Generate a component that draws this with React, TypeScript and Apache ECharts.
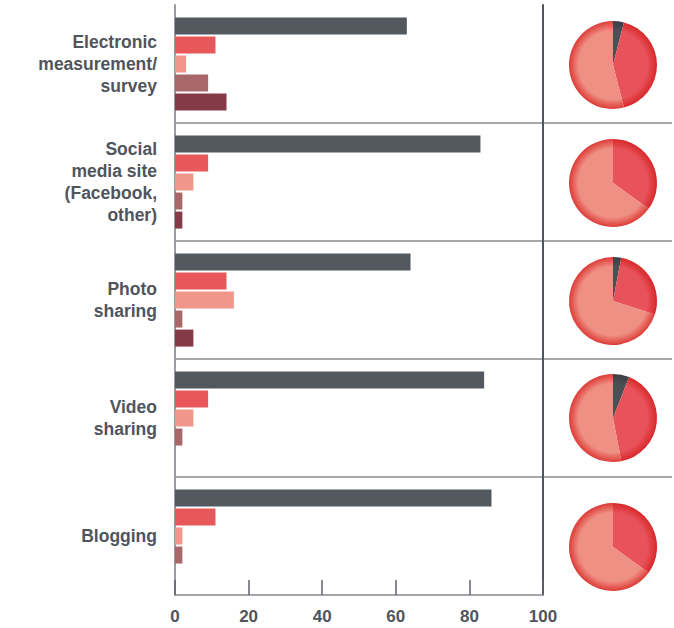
import React, { useEffect, useRef } from "react";
import * as echarts from "echarts";

const categories = [
  "Electronic\nmeasurement/\nsurvey",
  "Social\nmedia site\n(Facebook,\nother)",
  "Photo\nsharing",
  "Video\nsharing",
  "Blogging",
];
const darkValues = [63, 83, 64, 84, 86];
const redValues = [11, 9, 14, 9, 11];
const salmonValues = [3, 5, 16, 5, 2];
const mauveValues = [9, 2, 2, 2, 2];
const maroonValues = [14, 2, 5, 0, 0];

const pieDark = [4, 0, 3, 6, 0];
const pieRed = [42, 35, 27, 41, 35];
const pieSalmon = [54, 65, 70, 53, 65];

const xMin = 0;
const xMax = 100;
const xInterval = 20;

const FONT = "'Liberation Sans', Arial, Helvetica, sans-serif";
const TEXT = "#50555d";

const barColors = ["#53585f", "#e8585a", "#f0968a", "#a8686a", "#843a47"];
const barData = [darkValues, redValues, salmonValues, mauveValues, maroonValues];

const PIE_X = 613;
const PIE_R = 44;
const pieYs = [65, 183, 301, 418, 547];

function radial(cy: number, inner: string, outer: string) {
  return {
    type: "radial",
    x: PIE_X,
    y: cy,
    r: PIE_R,
    global: true,
    colorStops: [
      { offset: 0, color: inner },
      { offset: 0.78, color: inner },
      { offset: 1, color: outer },
    ],
  };
}

export default function App() {
  const ref = useRef<HTMLDivElement>(null);
  useEffect(() => {
    document.body.style.margin = "0";
    if (!ref.current) return;
    const chart = echarts.init(ref.current, undefined, { renderer: "svg" });

    const barSeries = barData.map((vals, i) => ({
      type: "bar",
      name: "Series " + (i + 1),
      xAxisIndex: 0,
      yAxisIndex: 0,
      data: vals,
      barWidth: 17,
      barGap: "12%",
      itemStyle: { color: barColors[i] },
      silent: true,
    }));

    const pieSeries = categories.map((_, i) => ({
      type: "pie",
      name: "Share " + (i + 1),
      center: [PIE_X, pieYs[i]],
      radius: PIE_R,
      startAngle: 90,
      clockwise: true,
      label: { show: false },
      labelLine: { show: false },
      silent: true,
      itemStyle: { borderWidth: 0 },
      data: [
        { value: pieDark[i], itemStyle: { color: radial(pieYs[i], "#4b4f56", "#3c3f45") } },
        { value: pieRed[i], itemStyle: { color: radial(pieYs[i], "#e8525a", "#d6292b") } },
        { value: pieSalmon[i], itemStyle: { color: radial(pieYs[i], "#ef9084", "#dd3b37") } },
      ],
    }));

    chart.setOption({
      animation: false,
      backgroundColor: "#ffffff",
      grid: [
        { left: 175, top: 5, width: 368, height: 590 },
        { left: 543, top: 5, right: 2, height: 590 },
      ],
      xAxis: [
        {
          type: "value",
          gridIndex: 0,
          min: xMin,
          max: xMax,
          interval: xInterval,
          axisLine: { show: true, lineStyle: { color: "#a3a5a9", width: 2 } },
          axisTick: { show: true, inside: true, length: 15, lineStyle: { color: "#5d6168", width: 1.5 } },
          splitLine: { show: false },
          axisLabel: {
            margin: 13,
            fontFamily: FONT,
            fontWeight: "bold",
            fontSize: 17,
            color: TEXT,
          },
        },
        {
          type: "value",
          gridIndex: 1,
          min: 0,
          max: 1,
          show: false,
        },
      ],
      yAxis: [
        {
          type: "category",
          gridIndex: 0,
          data: categories,
          inverse: true,
          axisLine: { show: true, lineStyle: { color: "#9a9ca1", width: 2 } },
          axisTick: { show: false },
          splitLine: {
            show: true,
            showMinLine: false,
            showMaxLine: false,
            lineStyle: { color: "#a6a8ab", width: 2 },
          },
          axisLabel: {
            margin: 18,
            fontFamily: FONT,
            fontWeight: "bold",
            fontSize: 17.5,
            lineHeight: 22,
            color: TEXT,
            align: "right",
          },
        },
        {
          type: "category",
          gridIndex: 1,
          data: categories,
          inverse: true,
          axisLine: { show: true, lineStyle: { color: "#51555c", width: 2 } },
          axisTick: { show: false },
          axisLabel: { show: false },
          splitLine: {
            show: true,
            showMinLine: false,
            showMaxLine: false,
            lineStyle: { color: "#a6a8ab", width: 2 },
          },
        },
      ],
      series: [...barSeries, ...pieSeries],
    });
    return () => chart.dispose();
  }, []);
  return <div ref={ref} style={{ width: 674, height: 628 }} />;
}
